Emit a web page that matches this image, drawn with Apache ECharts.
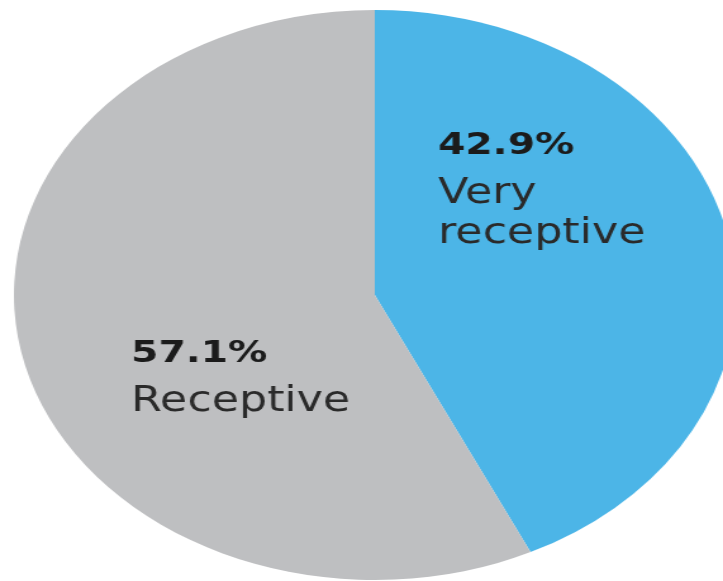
<!DOCTYPE html>
<html>
<head>
<meta charset="utf-8">
<script src="https://cdn.jsdelivr.net/npm/echarts@6/dist/echarts.min.js"></script>
<style>
html,body{margin:0;padding:0;background:#fff;overflow:hidden;}
#wrap{width:723px;height:581px;overflow:hidden;position:relative;}
#chart{width:571px;height:581px;transform:scaleX(1.2662);transform-origin:0 0;}
</style>
</head>
<body>
<div id="wrap"><div id="chart"></div></div>
<script>
const categories = ['Very\nreceptive', 'Receptive'];
const values = [42.9, 57.1];
const colors = ['#4cb5e7', '#bebfc1'];

const chart = echarts.init(document.getElementById('chart'), null, {renderer: 'canvas'});
const labelOffsets = [[-10, -77], [36, 47]];
chart.setOption({
  animation: false,
  series: [{
    type: 'pie',
    center: [296, 295],
    radius: [0, 285],
    startAngle: 90,
    clockwise: true,
    silent: true,
    data: categories.map((c, i) => ({
      name: c,
      value: values[i],
      itemStyle: {color: colors[i]},
      label: {offset: labelOffsets[i]}
    })),
    label: {
      show: true,
      position: 'inside',
      formatter: p => '{v|' + p.value.toFixed(1) + '%}\n{n|' + p.name.split('\n').join('}\n{n|') + '}',
      rich: {
        v: {fontFamily: 'DejaVu Sans', fontWeight: 'bold', fontSize: 31, color: '#1b1b1b', align: 'left', lineHeight: 56},
        n: {fontFamily: 'DejaVu Sans', fontSize: 35, color: '#2a2a2a', align: 'left', lineHeight: 40}
      }
    },
    labelLine: {show: false}
  }]
});
</script>
</body>
</html>
